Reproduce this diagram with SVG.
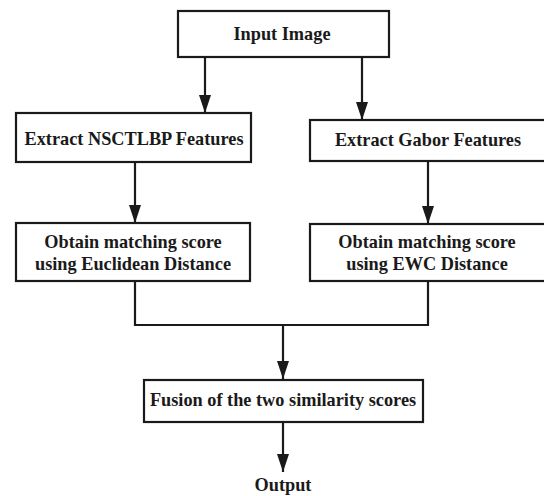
<svg xmlns="http://www.w3.org/2000/svg" width="544" height="496" viewBox="0 0 544 496">
<style>
.box{fill:#fff;stroke:#1a1a1a;stroke-width:2.2}
.t{font-family:"Liberation Serif","Times New Roman",serif;font-weight:bold;font-size:18.3px;fill:#1a1a1a;text-anchor:middle}
.c{fill:none;stroke:#1a1a1a;stroke-width:2.2}
</style>
<defs>
<marker id="ah" markerUnits="userSpaceOnUse" markerWidth="18" markerHeight="12" refX="18" refY="6" orient="auto">
<path d="M0,0 L18,6 L0,12 z" fill="#1a1a1a"/>
</marker>
</defs>
<rect width="544" height="496" fill="#fff"/>
<g id="connectors">
<line class="c" x1="205" y1="57" x2="205" y2="113" marker-end="url(#ah)"/>
<line class="c" x1="362" y1="57" x2="362" y2="120" marker-end="url(#ah)"/>
<line class="c" x1="135" y1="162" x2="135" y2="223" marker-end="url(#ah)"/>
<line class="c" x1="428" y1="161" x2="428" y2="224" marker-end="url(#ah)"/>
<polyline class="c" points="135,281 135,325 428,325 428,281"/>
<line class="c" x1="283" y1="325" x2="283" y2="379" marker-end="url(#ah)"/>
<line class="c" x1="283" y1="422" x2="283" y2="472" marker-end="url(#ah)"/>
</g>
<g id="input">
<rect class="box" x="178" y="11" width="211" height="46"/>
<text class="t" x="282" y="40">Input Image</text>
</g>
<g id="nsctlbp">
<rect class="box" x="16" y="113" width="235" height="49"/>
<text class="t" x="134" y="145">Extract NSCTLBP Features</text>
</g>
<g id="gabor">
<rect class="box" x="310" y="120" width="240" height="41"/>
<text class="t" x="428" y="146">Extract Gabor Features</text>
</g>
<g id="euclid">
<rect class="box" x="16" y="223" width="234" height="58"/>
<text class="t" x="133" y="248">Obtain matching score</text>
<text class="t" x="133" y="270">using Euclidean Distance</text>
</g>
<g id="ewc">
<rect class="box" x="310" y="224" width="240" height="57"/>
<text class="t" x="427" y="248">Obtain matching score</text>
<text class="t" x="427" y="270">using EWC Distance</text>
</g>
<g id="fusion">
<rect class="box" x="144" y="380" width="279" height="42"/>
<text class="t" x="283" y="406">Fusion of the two similarity scores</text>
</g>
<g id="output">
<text class="t" x="283" y="491">Output</text>
</g>
</svg>
